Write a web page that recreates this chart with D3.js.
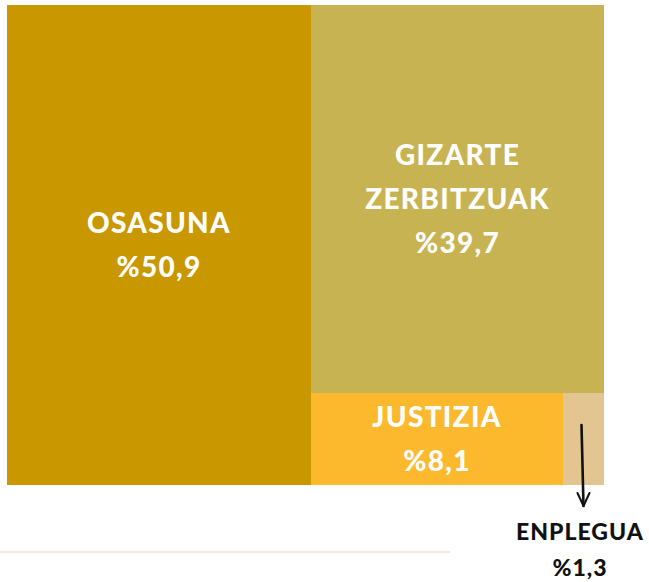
<!DOCTYPE html>
<html>
<head>
<meta charset="utf-8">
<script src="https://cdn.jsdelivr.net/npm/d3@7"></script>
<style>
  html, body { margin: 0; padding: 0; background: #ffffff; }
  svg { display: block; }
  text { font-family: "Lato", "Open Sans", sans-serif; font-weight: 900; }
</style>
</head>
<body>
<svg id="chart" width="649" height="582"></svg>
<script>
// Data
const categories = ["OSASUNA", "GIZARTE ZERBITZUAK", "JUSTIZIA", "ENPLEGUA"];
const labelLines = [["OSASUNA"], ["GIZARTE", "ZERBITZUAK"], ["JUSTIZIA"], ["ENPLEGUA"]];
const values = [50.9, 39.7, 8.1, 1.3];
const valueLabels = ["%50,9", "%39,7", "%8,1", "%1,3"];
const colors = ["#C99700", "#C8B353", "#FCB92E", "#E3C592"];

const W = 649, H = 582;
const box = {x0: 7, y0: 5, x1: 604, y1: 485};

const svg = d3.select("#chart");

const root = d3.hierarchy({children: categories.map((c, i) => ({name: c, value: values[i], idx: i}))})
  .sum(d => d.value || 0);

d3.treemap()
  .tile(d3.treemapSquarify.ratio(1))
  .size([box.x1 - box.x0, box.y1 - box.y0])
  .round(true)(root);

const g = svg.append("g").attr("transform", `translate(${box.x0},${box.y0})`);

const leaves = root.leaves();
g.selectAll("rect.cell").data(leaves).join("rect")
  .attr("class", "cell")
  .attr("x", d => d.x0).attr("y", d => d.y0)
  .attr("width", d => d.x1 - d.x0).attr("height", d => d.y1 - d.y0)
  .attr("fill", d => colors[d.data.idx]);

const fs = 28, lh = 44;
leaves.filter(d => d.data.idx < 3).forEach(d => {
  const i = d.data.idx;
  const lines = labelLines[i].concat([valueLabels[i]]);
  const cx = (d.x0 + d.x1) / 2, cy = (d.y0 + d.y1) / 2;
  const h = (lines.length - 1) * lh;
  const t = g.append("text")
    .attr("text-anchor", "middle")
    .attr("fill", "#ffffff")
    .attr("font-size", fs)
    .attr("letter-spacing", 1.3);
  lines.forEach((ln, k) => {
    t.append("tspan").attr("x", cx).attr("y", cy - h / 2 + k * lh + fs * 0.36).text(ln);
  });
});

// Small category: label outside with arrow
const small = leaves.find(d => d.data.idx === 3);
const sx = (small.x0 + small.x1) / 2 + box.x0;
const arrowTop = (small.y0 + small.y1) / 2 + box.y0 - 14;
const arrowBottom = 506;
svg.append("path")
  .attr("d", `M${sx - 2},${arrowTop} Q${sx - 1},${(arrowTop + arrowBottom) / 2} ${sx},${arrowBottom}`)
  .attr("fill", "none").attr("stroke", "#111").attr("stroke-width", 2.6).attr("stroke-linecap", "round");
svg.append("path")
  .attr("d", `M${sx - 6},${arrowBottom - 13} L${sx},${arrowBottom} L${sx + 6},${arrowBottom - 13}`)
  .attr("fill", "none").attr("stroke", "#111").attr("stroke-width", 2).attr("stroke-linecap", "round").attr("stroke-linejoin", "round");

const ot = svg.append("text").attr("text-anchor", "middle").attr("fill", "#111")
  .attr("font-size", 23).attr("letter-spacing", 1);
ot.append("tspan").attr("x", 580).attr("y", 540).text(labelLines[3][0]);
ot.append("tspan").attr("x", 580).attr("y", 576).text(valueLabels[3]);

// Faint rule at the bottom
svg.append("rect").attr("x", 0).attr("y", 551).attr("width", 450).attr("height", 2).attr("fill", "#F0E8DC");
</script>
</body>
</html>
